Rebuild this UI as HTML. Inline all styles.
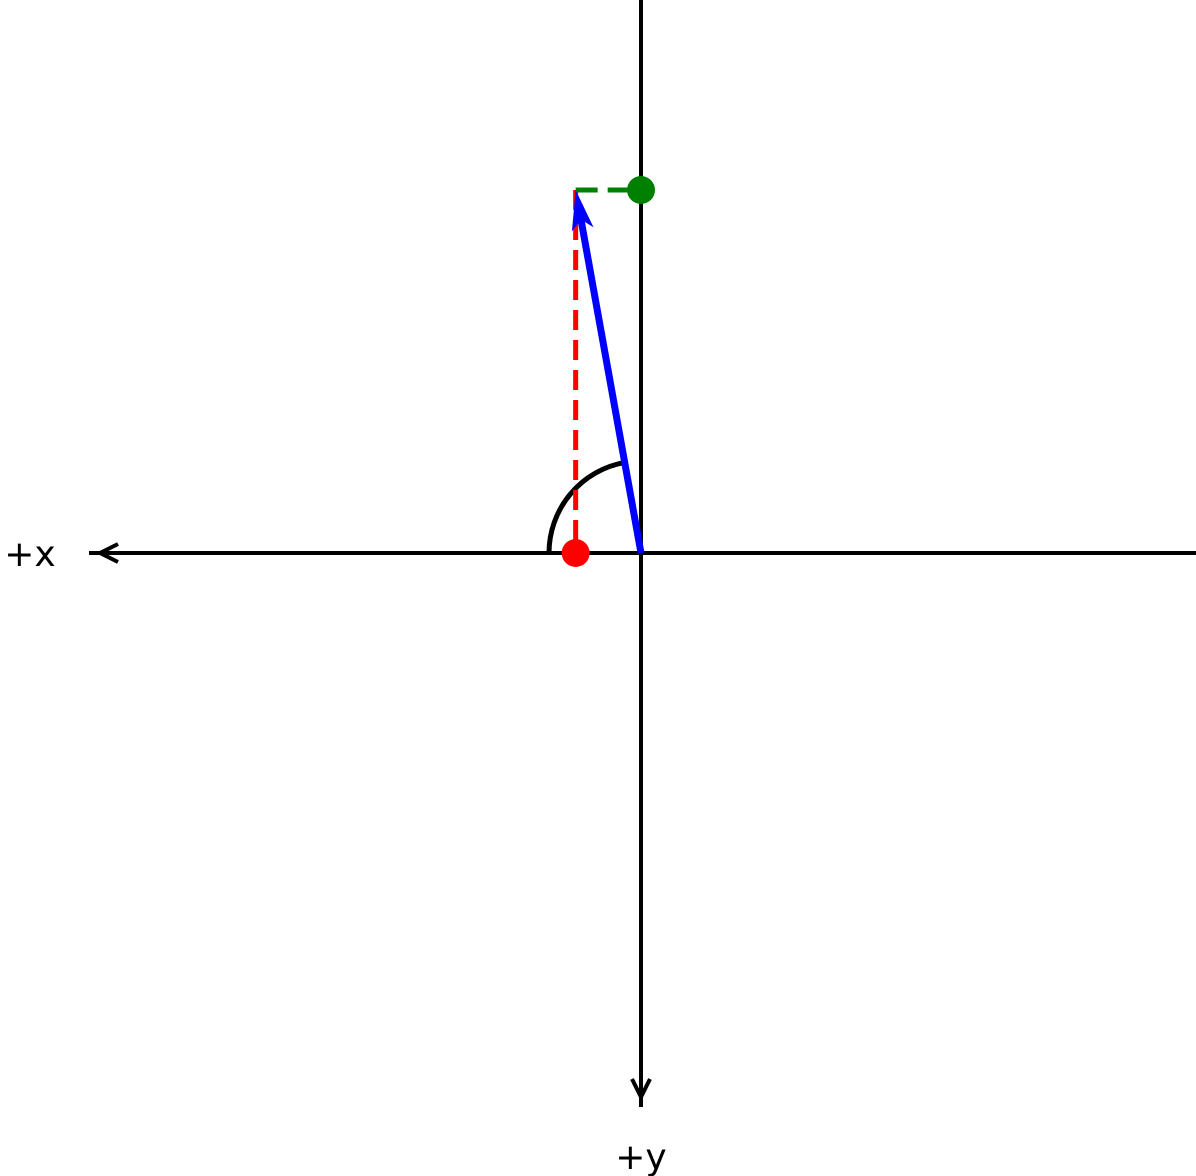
<!DOCTYPE html>
<html><head><meta charset="utf-8"><style>html,body{margin:0;padding:0;background:#fff}svg{display:block}</style></head>
<body>
<svg id="c" width="1196" height="1176" viewBox="0 0 1196 1176" xmlns="http://www.w3.org/2000/svg">
<g>
<line x1="1196" y1="553" x2="89" y2="553" stroke="#000" stroke-width="4"/>
<polyline points="118,544 100,553 118,562" fill="none" stroke="#000" stroke-width="4"/>
</g>
<g>
<line x1="641" y1="0" x2="641" y2="1107" stroke="#000" stroke-width="4"/>
<polyline points="632,1079 641,1097 650,1079" fill="none" stroke="#000" stroke-width="4"/>
</g>
<text x="30" y="566" font-family="DejaVu Sans, sans-serif" font-size="36" text-anchor="middle">+x</text>
<text x="641" y="1169" font-family="DejaVu Sans, sans-serif" font-size="36" text-anchor="middle">+y</text>
<g id="marks"></g>
</svg>
<script>
// vector components in data units (screen: x to left, y down)
const vectorX = [0.18];
const vectorY = [-1.0];
const origin = [641, 553];
const unit = 363;
function sx(v){ return origin[0] - v*unit; }
function sy(v){ return origin[1] + v*unit; }
const ns='http://www.w3.org/2000/svg';
const g=document.getElementById('marks');
function mk(tag,attrs){const e=document.createElementNS(ns,tag);for(const k in attrs)e.setAttribute(k,attrs[k]);g.appendChild(e);return e;}
const tx=sx(vectorX[0]), ty=sy(vectorY[0]);
const r=92;
const ang=Math.atan2(ty-origin[1], tx-origin[0]);
const ax=origin[0]+r*Math.cos(ang), ay=origin[1]+r*Math.sin(ang);
const arc=mk('path',{d:`M ${origin[0]-r} ${origin[1]} A ${r} ${r} 0 0 1 ${ax} ${ay}`,fill:'none',stroke:'#000','stroke-width':5});


const rl=mk('line',{x1:tx,y1:ty,x2:tx,y2:origin[1],stroke:'#ff0000','stroke-width':5,'stroke-dasharray':'20 10'});


const gl=mk('line',{x1:tx,y1:ty,x2:origin[0],y2:ty,stroke:'#008000','stroke-width':5,'stroke-dasharray':'22 10'});


const dx=tx-origin[0], dy=ty-origin[1], L=Math.hypot(dx,dy), ux=dx/L, uy=dy/L;
const hl=40, hw=11;
const bx=tx-ux*hl, by=ty-uy*hl;
const vl=mk('line',{x1:origin[0],y1:origin[1],x2:tx-ux*25,y2:ty-uy*25,stroke:'#0000ff','stroke-width':7});


const vh=mk('polygon',{points:`${tx},${ty} ${bx-uy*hw},${by+ux*hw} ${tx-ux*30},${ty-uy*30} ${bx+uy*hw},${by-ux*hw}`,fill:'#0000ff'});


const rp=mk('circle',{cx:tx,cy:origin[1],r:14,fill:'#ff0000'});


const gp=mk('circle',{cx:origin[0],cy:ty,r:14,fill:'#008000'});


</script>
</body></html>
